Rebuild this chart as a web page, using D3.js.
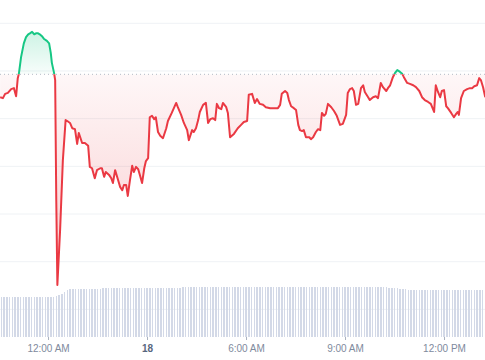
<!DOCTYPE html>
<html>
<head>
<meta charset="utf-8">
<script src="https://cdn.jsdelivr.net/npm/d3@7"></script>
<style>
body{margin:0;background:#fff;}
text{font-family:"Liberation Sans",Arial,sans-serif;}
</style>
</head>
<body>
<div id="chart"></div>
<script>
// price points: minutes from 12:00 AM on the 18th, and price
const priceMinutes=[-87,-82,-78,-73,-67,-62,-58,-55,-53,-49,-44,-40,-36,-33,-29,-25,-22,-18,-15,-11,-7,-2,2,5,7,11,13,15,17,22,27,
	32,35,40,44,49,53,56,62,67,73,76,80,85,89,95,98,102,105,111,115,118,122,127,131,135,138,142,145,149,153,156,160,164,167,171,175,178,182,
	185,189,193,196,200,204,209,215,218,225,233,236,242,247,253,256,262,265,269,273,276,282,287,291,295,300,304,307,311,315,318,324,327,331,
	338,345,351,356,362,365,371,376,380,385,391,396,404,411,418,422,425,431,435,438,442,447,451,455,458,462,465,469,475,478,482,487,491,495,
	498,502,505,509,515,520,525,531,536,542,545,549,553,556,560,564,569,573,576,582,585,591,596,600,605,609,615,618,622,627,631,635,640,644,
	647,653,658,664,669,675,680,685,691,696,702,705,709,713,716,720,724,727,733,738,742,745,747,751,756,762,767,771,775,780,784,787,791,795];
const priceValues=[103.45,103.43,103.52,103.54,103.62,103.64,103.47,103.85,103.94,104.29,104.58,104.71,104.77,104.79,104.82,104.77,104.79,104.79,104.77,104.73,104.67,104.63,104.58,104.38,104.17,103.96,103.81,101.29,99.51,100.67,102.13,
	102.97,102.95,102.91,102.80,102.78,102.47,102.70,102.49,102.49,102.43,101.99,101.96,101.75,101.92,101.96,101.96,101.78,101.88,101.82,101.75,101.65,101.92,101.73,101.57,101.50,101.61,101.61,101.38,101.71,102.01,101.88,101.99,101.94,101.82,101.65,101.96,102.11,102.17,
	103.03,103.06,102.99,103.03,102.72,102.64,102.59,102.80,102.95,103.12,103.33,103.24,103.08,102.91,102.76,102.55,102.76,102.72,102.80,102.97,103.14,103.29,103.33,102.91,102.99,103.01,102.97,103.31,103.22,103.20,103.33,103.24,103.12,102.61,
	102.68,102.80,102.87,102.93,102.95,103.50,103.52,103.33,103.41,103.31,103.29,103.24,103.22,103.22,103.22,103.29,103.52,103.58,103.54,103.39,103.26,103.22,103.18,102.87,102.76,102.74,102.76,102.61,102.61,102.57,102.61,102.72,102.78,102.76,
	103.12,103.06,103.10,103.31,103.24,103.16,103.06,102.87,102.89,103.08,103.54,103.62,103.64,103.58,103.29,103.31,103.64,103.70,103.56,103.45,103.39,103.45,103.47,103.43,103.75,103.66,103.58,103.64,103.70,103.87,103.96,104.02,103.98,103.94,
	103.87,103.75,103.73,103.70,103.66,103.58,103.45,103.39,103.35,103.31,103.14,103.70,103.56,103.45,103.58,103.60,103.26,103.22,103.12,103.03,103.10,103.14,103.08,103.43,103.58,103.62,103.64,103.64,103.68,103.70,103.85,103.81,103.66,103.45];
const openPrice=103.93;

// 24h volume (millions), one bar every 5 minutes from 10:35 PM
const volumeStart=-85;
const volumeStep=5;
const volumeValues=[7.95,7.96,7.96,7.97,7.98,7.98,7.99,8.00,8.00,8.01,8.02,8.02,8.03,8.03,8.04,8.05,8.05,8.06,8.06,8.07,
	8.12,8.35,8.70,9.05,9.38,9.52,
	9.55,9.56,9.58,9.60,9.61,9.63,9.64,9.65,9.66,9.68,
	9.70,9.71,9.72,9.74,9.75,9.76,9.76,9.77,9.78,9.78,9.79,9.80,9.80,9.81,9.82,
	9.83,9.84,9.85,9.85,9.86,9.86,9.87,9.87,9.88,9.88,9.89,9.89,9.90,9.90,9.90,9.91,9.91,9.92,9.92,9.92,9.93,9.93,9.93,9.92,9.92,
	9.93,9.94,9.94,9.95,9.95,9.95,9.96,9.96,9.96,9.95,9.95,9.96,9.97,9.97,9.97,9.98,9.98,9.98,9.97,9.97,9.98,9.99,9.99,9.99,10.00,
	10.00,10.01,10.01,10.02,10.02,10.01,10.01,10.02,10.03,10.03,10.02,10.02,10.01,10.01,10.02,10.02,10.01,10.00,10.00,10.01,10.01,10.00,9.99,9.99,10.00,10.00,9.99,9.98,9.98,9.97,
	9.97,9.96,9.96,9.95,9.95,9.94,9.94,9.93,9.93,9.92,
	9.88,9.84,9.78,9.72,9.65,9.58,9.52,9.47,9.44,9.42,
	9.41,9.41,9.40,9.40,9.40,9.39,9.39,9.39,9.38,9.38,9.38,9.38,9.37,9.37,9.37,9.37,9.36,9.36,9.36,9.36,9.35,9.35,9.35,9.35,9.34,9.34];

const gridValues=[99,100,101,102,103,104,105];
const tickMinutes=[0,180,360,540,720];
const tickLabels=["12:00 AM","18","6:00 AM","9:00 AM","12:00 PM"];

const width=485;
const height=360;
const midnight=new Date(2024,0,18,0,0);
const toDate=m=>new Date(midnight.getTime()+m*60000);

const prices=priceMinutes.map((m,i)=>({date:toDate(m),value:priceValues[i]}));
const volumes=volumeValues.map((v,i)=>({date:toDate(volumeStart+i*volumeStep),value:v}));

const x=d3.scaleTime()
	.domain([toDate(-87.3),toDate(794.5)])
	.range([0,width]);
const y=d3.scaleLinear()
	.domain([100,105])
	.range([261.7,23.3]);
const yVol=d3.scaleLinear()
	.domain([0,10])
	.range([337,287]);

const svg=d3.select('#chart').append('svg')
	.attr('width',width)
	.attr('height',height);

const defs=svg.append('defs');
const baseY=y(openPrice);

defs.append('clipPath').attr('id','clipUp')
	.append('rect').attr('x',0).attr('y',0).attr('width',width).attr('height',baseY);
defs.append('clipPath').attr('id','clipDown')
	.append('rect').attr('x',0).attr('y',baseY).attr('width',width).attr('height',height-baseY);

const gUp=defs.append('linearGradient').attr('id','gradUp')
	.attr('gradientUnits','userSpaceOnUse')
	.attr('x1',0).attr('x2',0).attr('y1',y(104.85)).attr('y2',baseY);
gUp.append('stop').attr('offset',0).attr('stop-color','#16c784').attr('stop-opacity',0.22);
gUp.append('stop').attr('offset',1).attr('stop-color','#16c784').attr('stop-opacity',0.03);

const gDown=defs.append('linearGradient').attr('id','gradDown')
	.attr('gradientUnits','userSpaceOnUse')
	.attr('x1',0).attr('x2',0).attr('y1',baseY).attr('y2',y(99.5));
gDown.append('stop').attr('offset',0).attr('stop-color','#ea3943').attr('stop-opacity',0.04);
gDown.append('stop').attr('offset',1).attr('stop-color','#ea3943').attr('stop-opacity',0.26);

// grid
svg.append('g').selectAll('line')
	.data(gridValues)
	.join('line')
	.attr('x1',0).attr('x2',width)
	.attr('y1',d=>y(d)).attr('y2',d=>y(d))
	.attr('stroke','#eff2f5')
	.attr('stroke-width',1);

// volume bars
svg.append('g').selectAll('rect')
	.data(volumes)
	.join('rect')
	.attr('x',d=>x(d.date)-0.75)
	.attr('width',1.5)
	.attr('y',d=>yVol(d.value))
	.attr('height',d=>yVol(0)-yVol(d.value))
	.attr('fill','#d3d9e7')
	.attr('shape-rendering','crispEdges');

// areas
const area=d3.area()
	.x(d=>x(d.date))
	.y0(baseY)
	.y1(d=>y(d.value));

svg.append('path').datum(prices)
	.attr('d',area)
	.attr('fill','url(#gradUp)')
	.attr('clip-path','url(#clipUp)');
svg.append('path').datum(prices)
	.attr('d',area)
	.attr('fill','url(#gradDown)')
	.attr('clip-path','url(#clipDown)');

// open price line
svg.append('line')
	.attr('x1',0).attr('x2',width)
	.attr('y1',baseY).attr('y2',baseY)
	.attr('stroke','#b4bbc6')
	.attr('stroke-width',1)
	.attr('stroke-dasharray','1,3');

// price line
const line=d3.line()
	.x(d=>x(d.date))
	.y(d=>y(d.value));

svg.append('path').datum(prices)
	.attr('d',line)
	.attr('fill','none')
	.attr('stroke','#16c784')
	.attr('stroke-width',2)
	.attr('stroke-linejoin','round')
	.attr('clip-path','url(#clipUp)');
svg.append('path').datum(prices)
	.attr('d',line)
	.attr('fill','none')
	.attr('stroke','#ea3943')
	.attr('stroke-width',2)
	.attr('stroke-linejoin','round')
	.attr('clip-path','url(#clipDown)');

// x axis
const xAxis=svg.append('g')
	.attr('transform','translate(0,337)')
	.call(d3.axisBottom(x)
		.tickValues(tickMinutes.map(toDate))
		.tickFormat((d,i)=>tickLabels[i])
		.tickSize(3)
		.tickPadding(5));
xAxis.select('.domain').remove();
xAxis.selectAll('.tick line').attr('stroke','#aab2bf');
xAxis.selectAll('.tick text')
	.style('font-size','10px')
	.style('font-weight',(d,i)=>tickLabels[i]==='18'?'bold':'normal')
	.attr('fill',(d,i)=>tickLabels[i]==='18'?'#58667e':'#808a9d');
</script>
</body>
</html>
